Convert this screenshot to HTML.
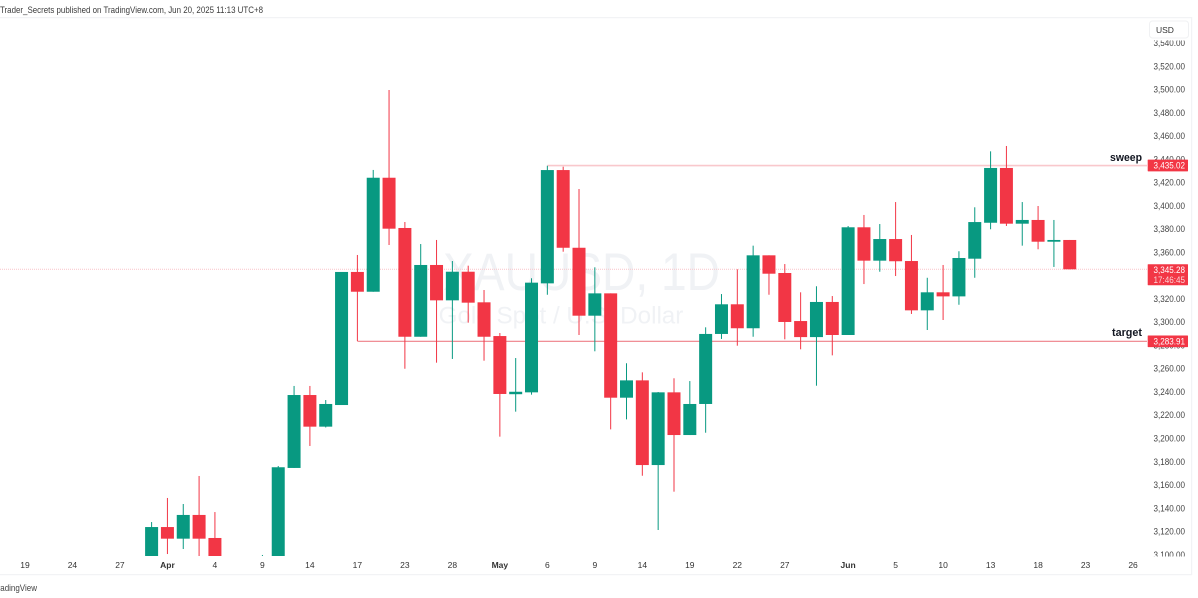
<!DOCTYPE html>
<html lang="en">
<head>
<meta charset="utf-8">
<title>XAUUSD 1D chart</title>
<style>
html,body{margin:0;padding:0;background:#fff;width:1198px;height:598px;overflow:hidden}
svg{display:block;font-family:"Liberation Sans",sans-serif}
</style>
</head>
<body>
<svg id="chart" width="1198" height="598" viewBox="0 0 1198 598" xmlns="http://www.w3.org/2000/svg">
  <defs>
    <clipPath id="axis-clip"><rect x="1147" y="40.5" width="44" height="516"/></clipPath>
  </defs>
  <rect width="1198" height="598" fill="#ffffff"/>
  <text x="0" y="13" font-size="9.5" fill="#3c3c3c" textLength="263" lengthAdjust="spacingAndGlyphs">Trader_Secrets published on TradingView.com, Jun 20, 2025 11:13 UTC+8</text>
  <rect x="0" y="17" width="1192" height="1.2" fill="#f2f3f5"/>
  <rect x="1191" y="17" width="1.2" height="558" fill="#f2f3f5"/>
  <rect x="0" y="574" width="1192" height="1.2" fill="#f2f3f5"/>
  <text x="443" y="290" font-size="53" fill="#f0f2f5" textLength="277" lengthAdjust="spacingAndGlyphs">XAUUSD, 1D</text>
  <text x="561" y="323.5" font-size="24.2" text-anchor="middle" fill="#f0f2f5">Gold Spot / U.S. Dollar</text>
  <g id="lines"></g>
  <g id="candles"></g>
  <g id="y-axis" clip-path="url(#axis-clip)"></g>
  <g id="x-axis"></g>
  <rect x="1149.5" y="21" width="39" height="17" rx="3" fill="#ffffff" stroke="#f0f1f3"/>
  <text x="1156" y="33" font-size="8.5" fill="#333">USD</text>
  <text x="1142" y="161" font-size="11" font-weight="bold" fill="#131722" text-anchor="end" textLength="32" lengthAdjust="spacingAndGlyphs">sweep</text>
  <text x="1142" y="336" font-size="11" font-weight="bold" fill="#131722" text-anchor="end" textLength="30" lengthAdjust="spacingAndGlyphs">target</text>
  <g id="badges"></g>
  <text x="-7" y="591" font-size="9.5" fill="#444" textLength="44" lengthAdjust="spacingAndGlyphs">TradingView</text>
</svg>
<script>
const opens = [3085,3123.7,3113.7,3134.1,3114.3,3037,2982,2982,3083,3174.5,3237.2,3210,3228.6,3343,3326,3424,3380.8,3287.3,3349,3318.6,3343.2,3316.9,3287.9,3237.9,3239.5,3333.2,3430.6,3363.8,3305.4,3324.6,3234.9,3249.8,3177,3239.5,3202.8,3229.5,3289.7,3315.2,3294.6,3357.3,3342.1,3300.8,3287,3317.2,3288.8,3381.4,3352.7,3371.3,3352.4,3310,3325.5,3322,3354.4,3385.3,3432.4,3384.5,3387.7,3369,3370.5];
const highs = [3128,3148.7,3143.5,3167.6,3136.6,3055,3020,3099.7,3176.2,3245,3245,3232.9,3343,3357.6,3430.7,3499.4,3385.9,3367,3370.5,3352.4,3348.4,3327.5,3290.5,3269,3337.6,3434.3,3433.5,3414.3,3347,3324.6,3264.5,3256.7,3239.8,3251.6,3249.2,3295.4,3324,3345.3,3365.6,3357.3,3349.8,3325.5,3330.7,3322.3,3382.5,3392,3384.2,3403.1,3374.8,3338,3349,3360.8,3398.6,3446.7,3451.3,3403.1,3399.7,3387.7,3370.5];
const lows = [3085,3100.5,3104.8,3054,3015,2956,2970,2957,3071,3174.5,3193.4,3209.3,3228.6,3283.6,3326,3366.2,3259.8,3287.3,3265,3268.2,3299.4,3266.7,3201.4,3222.9,3237.5,3323.4,3360.4,3288.8,3274.8,3207.7,3216.3,3167.8,3121.2,3154.1,3202.8,3204.8,3285.4,3279.6,3287.3,3323.4,3285.1,3276.5,3245.2,3271.3,3288.8,3332.6,3343.2,3339.5,3306.9,3293.1,3301.7,3314.8,3338,3379.7,3382.5,3365.6,3362.5,3347.3,3345.28];
const closes = [3123.7,3113.7,3134.1,3113.7,3037,2982,2982,3083,3175.1,3237.2,3210,3229.5,3343,3326,3424,3380.2,3287.3,3349,3318.6,3343.2,3316.6,3287.3,3238.1,3240,3333.8,3430.6,3363.8,3305.4,3324.6,3234.9,3249.8,3177,3239.5,3202.8,3229.5,3289.7,3315.2,3294.6,3357.3,3341.5,3300,3287,3317.2,3288.8,3381.4,3352.7,3371.3,3352.2,3310,3325.5,3322,3355,3385.9,3432.4,3384.5,3387.7,3369,3370.5,3345.28];
const priceTicks = [3100,3120,3140,3160,3180,3200,3220,3240,3260,3280,3300,3320,3340,3360,3380,3400,3420,3440,3460,3480,3500,3520,3540];
const timeLabels = ["19","24","27","Apr","4","9","14","17","23","28","May","6","9","14","19","22","27","Jun","5","10","13","18","23","26"];
const timeBars = [-8,-5,-2,1,4,7,10,13,16,19,22,25,28,31,34,37,40,44,47,50,53,56,59,62];
const boldLabels = ["Apr","May","Jun"];
const sweepPrice = 3435.02;
const sweepStartBar = 25;
const targetPrice = 3283.91;
const targetStartBar = 13;
const lastPrice = 3345.28;
const countdown = "17:46:45";

const NS = "http://www.w3.org/2000/svg";
const PANE_BOTTOM = 556;
const xScale = i => 151.6 + i * 15.83;
const yScale = p => (3576.8 - p) / 0.8597;
const yPane = p => Math.min(yScale(p), PANE_BOTTOM);
const fmt = p => p.toLocaleString("en-US", {minimumFractionDigits: 2, maximumFractionDigits: 2});
const make = (tag, parent, props) => {
  const el = document.createElementNS(NS, tag);
  for (const k in props) el.setAttribute(k, props[k]);
  parent.appendChild(el);
  return el;
};

const linesG = document.getElementById("lines");
const lastLine = make("line", linesG, {x1: 0, x2: 1147, y1: yScale(lastPrice), y2: yScale(lastPrice), stroke: "#f9c4c9", "stroke-width": 1, "stroke-dasharray": "1 1"});


const sweepLine = make("line", linesG, {x1: xScale(sweepStartBar), x2: 1147, y1: yScale(sweepPrice) + 0.6, y2: yScale(sweepPrice) + 0.6, stroke: "#f9c8cc", "stroke-width": 1.6});


const targetLine = make("line", linesG, {x1: xScale(targetStartBar), x2: 1147, y1: yScale(targetPrice) + 0.6, y2: yScale(targetPrice) + 0.6, stroke: "#ee7f87", "stroke-width": 1.1});



const candlesG = document.getElementById("candles");
opens.forEach((o, i) => {
  const c = closes[i], up = c >= o, col = up ? "#089981" : "#f23645";
  if (yScale(highs[i]) >= PANE_BOTTOM) return;
  const g = make("g", candlesG, {});
  
  
  const cx = xScale(i);
  const wick = make("line", g, {x1: cx, x2: cx, y1: yPane(highs[i]), y2: yPane(lows[i]), stroke: col, "stroke-width": 1});
  
  
  const top = yPane(Math.max(o, c)), bottom = yPane(Math.min(o, c));
  if (top < PANE_BOTTOM) {
    const body = make("rect", g, {x: cx - 6.5, y: top, width: 13, height: Math.max(bottom - top, 1), fill: col});
    
    
  }
});

const yG = document.getElementById("y-axis");
priceTicks.forEach(p => {
  const t = make("text", yG, {x: 1153.5, y: yScale(p) + 3.2, "font-size": 9, fill: "#444", textLength: 31.5, lengthAdjust: "spacingAndGlyphs"});
  t.textContent = fmt(p);
  
  
});

const xG = document.getElementById("x-axis");
timeLabels.forEach((label, i) => {
  const t = make("text", xG, {x: xScale(timeBars[i]), y: 568, "font-size": 8.5, fill: "#333", "text-anchor": "middle", "font-weight": boldLabels.includes(label) ? "bold" : "normal"});
  t.textContent = label;
  
  
});

const badgesG = document.getElementById("badges");
const badge = (price, lines, name, offset) => {
  const g = make("g", badgesG, {});
  
  
  const cy = yScale(price) + offset, h = lines.length === 2 ? 21 : 11.7;
  const top = lines.length === 2 ? cy - 5 : cy - h / 2;
  make("rect", g, {x: 1147.7, y: top, width: 40.3, height: h, fill: "#f23645", rx: 0.5});
  lines.forEach((s, k) => {
    const t = make("text", g, {x: 1153.5, y: top + 8.9 + k * 10, "font-size": 9, fill: k ? "#fbd3d6" : "#ffffff", textLength: 31.5, lengthAdjust: "spacingAndGlyphs"});
    t.textContent = s;
  });
};
badge(sweepPrice, [fmt(sweepPrice)], "sweep-price-badge", 0.6);
badge(lastPrice, [fmt(lastPrice), countdown], "last-price-badge", 0);
badge(targetPrice, [fmt(targetPrice)], "target-price-badge", 0.6);
</script>
</body>
</html>
